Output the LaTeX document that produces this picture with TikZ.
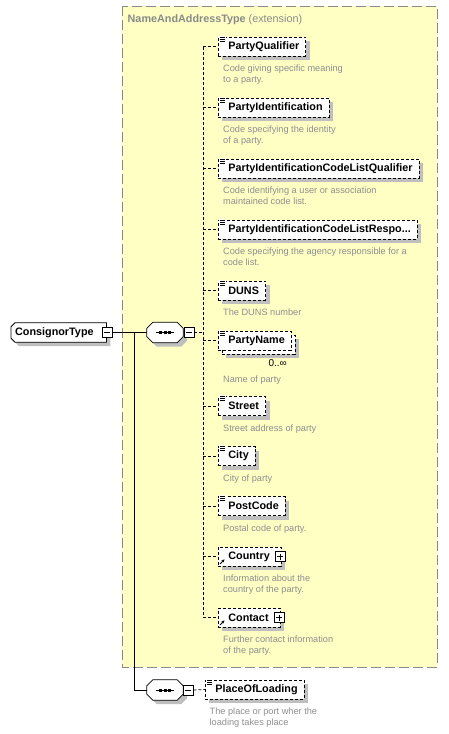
\documentclass[tikz,border=0pt]{standalone}
\usepackage{fontspec}
\setmainfont{Liberation Sans}
\usetikzlibrary{shadows,arrows.meta}
\definecolor{extfill}{HTML}{FFFFC4}
\definecolor{extline}{HTML}{8A8A8A}
\definecolor{desctext}{HTML}{8E8E8E}
\newcommand{\lblfont}{\fontsize{10.8}{13}\selectfont\bfseries}
\newcommand{\descfont}{\fontsize{9.2}{11}\selectfont}
\tikzset{
  boxshadow/.style={drop shadow={shadow xshift=4pt, shadow yshift=-4pt, fill=black!25, opacity=1}},
  elembase/.style={draw, line width=0.8pt, dash pattern=on 3pt off 2pt, fill=white,
    font=\lblfont, minimum height=19pt, inner ysep=0pt, inner xsep=6.5pt, anchor=west,
    execute at begin node={\hspace*{3.5pt}}},
  elem/.style={elembase, boxshadow},
  desc/.style={font=\descfont, text=desctext, align=left, inner sep=0pt, anchor=north west},
  rootbox/.style={minimum width=95pt, minimum height=19pt, inner sep=0pt, anchor=west},
  seqbox/.style={minimum width=36pt, minimum height=20pt, inner sep=0pt},
  compshape/.style={draw, line width=0.8pt, fill=white, boxshadow},
  minusbox/.style={draw, line width=0.8pt, fill=white, minimum size=10pt, inner sep=0pt,
    path picture={\draw[line width=0.8pt] ([xshift=2pt]path picture bounding box.west)
      -- ([xshift=-2pt]path picture bounding box.east);}},
  plusbox/.style={minusbox,
    path picture={\draw[line width=0.8pt] ([xshift=2pt]path picture bounding box.west)
      -- ([xshift=-2pt]path picture bounding box.east)
      ([yshift=-2pt]path picture bounding box.north) -- ([yshift=2pt]path picture bounding box.south);}},
  conn/.style={line width=0.8pt},
  optconn/.style={line width=0.8pt, dash pattern=on 3pt off 2pt}
}
\begin{document}
\begin{tikzpicture}[x=1pt,y=-1pt]
  \useasboundingbox (0,0) rectangle (448,734);
  % extension base type
  \draw[extline, fill=extfill, line width=0.8pt, dash pattern=on 10pt off 4pt] (122,6) rectangle (437,667);
  \node[anchor=base west, text=extline, font=\lblfont, inner sep=0pt] (extTitle) at (127.5,22)
    {NameAndAddressType \mdseries(extension)};

  % root
  \node[rootbox] (consignor) at (11,332.5) {};
  \draw[compshape] ([xshift=4pt]consignor.north west) -- (consignor.north east) -- (consignor.south east)
    -- ([xshift=4pt]consignor.south west) -- ([yshift=4pt]consignor.south west)
    -- ([yshift=-4pt]consignor.north west) -- cycle;
  \node[anchor=west, font=\lblfont, inner sep=0pt] (consignorLabel) at ([xshift=4pt]consignor.west) {ConsignorType};
  \node[minusbox] (consignorMinus) at (107,332.5) {};

  % sequence compositors
  \node[seqbox] (seqA) at (165,332.5) {};
  \node[seqbox] (seqB) at (165,690) {};
  \foreach \s in {seqA,seqB} {
    \draw[compshape] ([xshift=6pt]\s.north west) -- ([xshift=-6pt]\s.north east)
      -- ([yshift=-6pt]\s.north east) -- ([yshift=6pt]\s.south east)
      -- ([xshift=-6pt]\s.south east) -- ([xshift=6pt]\s.south west)
      -- ([yshift=6pt]\s.south west) -- ([yshift=-6pt]\s.north west) -- cycle;
    \draw[conn] ([xshift=-9pt]\s.center) -- ([xshift=9pt]\s.center);
    \foreach \dx in {-4.5,0,4.5}
      \fill ([xshift=\dx pt]\s.center) +(-1.5,-1.5) rectangle +(1.5,1.5);
  }
  \node[minusbox] (seqAMinus) at (189,332.5) {};
  \node[minusbox] (seqBMinus) at (188,690) {};
  \coordinate (fork) at (134,332.5);
  \coordinate (bus) at (203,332.5);
  \draw[conn] (consignorMinus.east) -- (seqA.west);
  \draw[conn] (fork) |- (seqB.west);
  \draw[optconn] (seqAMinus.east) -- (bus);

  % child elements
  \node[elem] (partyQual) at (218,46.5) {PartyQualifier};
  \node[desc] (partyQual-desc) at (223,64.8) {Code giving specific meaning\\to a party.};
  \node[elem] (partyId) at (218,107.5) {PartyIdentification};
  \node[desc] (partyId-desc) at (223,125.8) {Code specifying the identity\\of a party.};
  \node[elem] (partyIdQual) at (218,168.5) {PartyIdentificationCodeListQualifier};
  \node[desc] (partyIdQual-desc) at (223,186.8) {Code identifying a user or association\\maintained code list.};
  \node[elem] (partyIdResp) at (218,229.5) {PartyIdentificationCodeListRespo...};
  \node[desc] (partyIdResp-desc) at (223,247.8) {Code specifying the agency responsible for a\\code list.};
  \node[elem] (duns) at (218,290.5) {DUNS};
  \node[desc] (duns-desc) at (223,308.8) {The DUNS number};
  \node[elem] (partyNameBack) at (222,344.5) {\phantom{PartyName}};
  \node[elembase] (partyName) at (218,340.5) {PartyName};
  \node[anchor=base east, font=\fontsize{10}{12}\selectfont, inner sep=0pt] (partyNameOcc) at (287,366.6) {0..∞};
  \node[desc] (partyName-desc) at (223,375.7) {Name of party};
  \node[elem] (street) at (218,406) {Street};
  \node[desc] (street-desc) at (223,424.3) {Street address of party};
  \node[elem] (city) at (218,456) {City};
  \node[desc] (city-desc) at (223,474.3) {City of party};
  \node[elem] (postCode) at (218,506) {PostCode};
  \node[desc] (postCode-desc) at (223,524.3) {Postal code of party.};
  \node[elem] (country) at (218,556.5) {Country\hspace*{5pt}};
  \node[desc] (country-desc) at (223,574.8) {Information about the\\country of the party.};
  \node[elem] (contact) at (218,617.5) {Contact\hspace*{5pt}};
  \node[desc] (contact-desc) at (223,635.8) {Further contact information\\of the party.};
  \foreach \el in {partyQual,partyId,partyIdQual,partyIdResp,duns,partyName,street,city,postCode,country,contact}
    \draw[optconn] (bus |- \el.west) -- (\el.west);
  \draw[optconn] (bus |- partyQual.west) -- (bus |- contact.west);

  % second child of the root
  \node[elem] (placeLoading) at (205,689.5) {PlaceOfLoading};
  \node[desc] (placeLoading-desc) at (209.5,707.8) {The place or port wher the\\loading takes place};
  \draw[optconn] (seqBMinus.east) -- (placeLoading.west);

  % icons
  \foreach \el in {partyQual,partyId,partyIdQual,partyIdResp,duns,partyName,street,city,postCode,placeLoading} {
    \fill[white] ([shift={(1pt,1pt)}]\el.north west) rectangle +(7,6);
    \foreach \dy in {0.5,2.5,4.5}
      \draw[line width=0.7pt] ([shift={(2pt,-\dy pt)}]\el.north west) -- +(5,0);
  }
  \foreach \el in {country,contact} {
    \node[plusbox] (\el-plus) at ([xshift=-1.5pt]\el.east) {};
    \draw[-{Stealth[length=3pt,width=3pt]}, line width=0.9pt] ([shift={(2pt,2.5pt)}]\el.south west) -- +(4.5,-4.5);
  }
\end{tikzpicture}
\end{document}
